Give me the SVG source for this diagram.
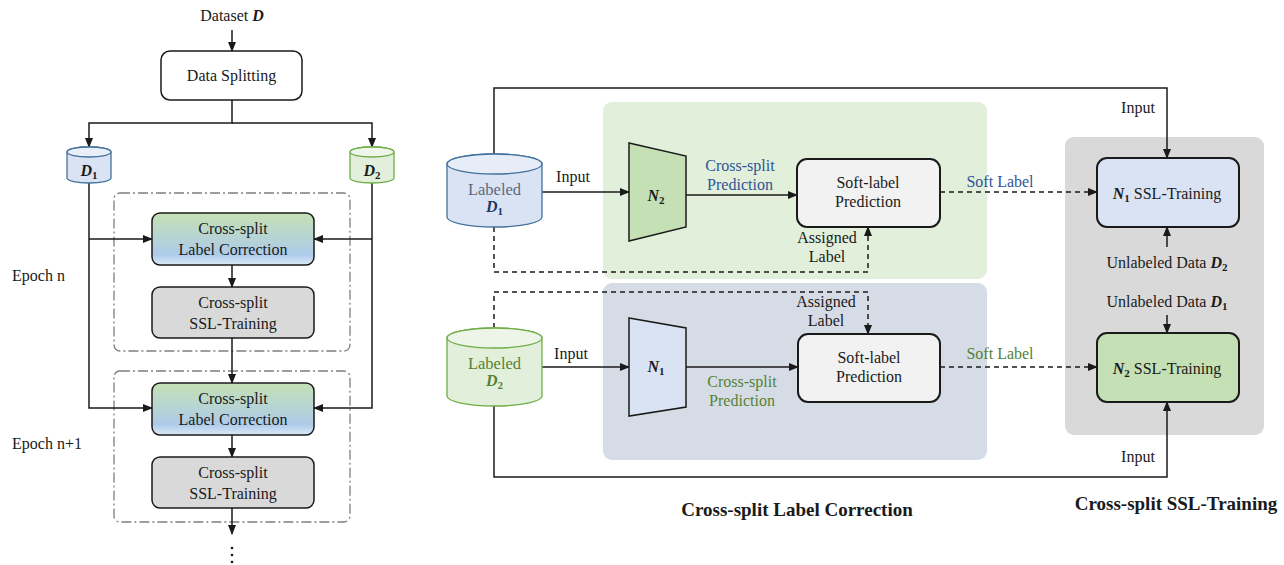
<svg xmlns="http://www.w3.org/2000/svg" width="1284" height="565" viewBox="0 0 1284 565">
<defs>
<style>
text{font-family:"Liberation Serif","Times New Roman",serif;font-size:16px;fill:#1a1a1a}
.c{text-anchor:middle}
.bi{font-weight:bold;font-style:italic}
.sub{font-size:11px;font-weight:bold;font-style:normal}
.box{stroke:#1a1a1a;stroke-width:2}
.ln{fill:none;stroke:#1a1a1a;stroke-width:1.5}
.ar{marker-end:url(#ah)}
.ds{stroke-dasharray:5 4}
.dd{fill:none;stroke:#7f7f7f;stroke-width:1.3;stroke-dasharray:10 3 2 3}
.title{font-size:19px;font-weight:bold}
</style>
<marker id="ah" markerWidth="10" markerHeight="8" refX="9" refY="4" orient="auto" markerUnits="userSpaceOnUse">
<path d="M0,0 L10,4 L0,8 Z" fill="#1a1a1a"/>
</marker>
<linearGradient id="lc" x1="0" y1="0" x2="0" y2="1">
<stop offset="0" stop-color="#c5e0b4"/>
<stop offset="0.8" stop-color="#adcbea"/>
<stop offset="1" stop-color="#dce9f7"/>
</linearGradient>
</defs>

<g id="backgrounds">
<rect x="603" y="102" width="384" height="177" rx="9" fill="#e2efda"/>
<rect x="603" y="283" width="384" height="177" rx="9" fill="#d6dce5"/>
<rect x="1065" y="137" width="199" height="298" rx="9" fill="#d9d9d9"/>
<rect x="114" y="193" width="236" height="158" rx="6" class="dd"/>
<rect x="114" y="371" width="236" height="151" rx="6" class="dd"/>
</g>

<g id="connectors">
<path class="ln ar" d="M232,30 V51"/>
<path class="ln ar" d="M232,100 V123 H89 V147"/>
<path class="ln ar" d="M232,123 H372 V147"/>
<path class="ln ar" d="M89,183 V408 H152"/>
<path class="ln ar" d="M89,239 H152"/>
<path class="ln ar" d="M372,183 V408 H314"/>
<path class="ln ar" d="M372,239 H314"/>
<path class="ln ar" d="M232,265 V287"/>
<path class="ln ar" d="M232,338 V383"/>
<path class="ln ar" d="M232,435 V457"/>
<path class="ln ar" d="M232,508 V534"/>
<path class="ln ar" d="M494,154 V88 H1167 V158"/>
<path class="ln ar" d="M542,192 H629"/>
<path class="ln ar" d="M686,195 H797"/>
<path class="ln ar ds" d="M940,192 H1097"/>
<path class="ln ar" d="M1167,247 V227"/>
<path class="ln ar" d="M1167,315 V333"/>
<path class="ln ar ds" d="M494,227 V272 H868 V227"/>
<path class="ln ar ds" d="M494,328 V292 H868 V334"/>
<path class="ln ar" d="M542,367 H629"/>
<path class="ln ar" d="M686,367 H798"/>
<path class="ln ar ds" d="M940,367 H1097"/>
<path class="ln ar" d="M494,406 V477 H1167 V402"/>
<circle cx="232" cy="548" r="1.3" fill="#1a1a1a"/>
<circle cx="232" cy="555" r="1.3" fill="#1a1a1a"/>
<circle cx="232" cy="562" r="1.3" fill="#1a1a1a"/>
</g>

<g id="dataset-label">
<text x="232" y="21" class="c">Dataset <tspan class="bi">D</tspan></text>
</g>

<g id="data-splitting">
<rect x="161" y="51" width="141" height="49" rx="9" fill="#ffffff" stroke="#1a1a1a" stroke-width="1.5"/>
<text x="231.5" y="81" class="c">Data Splitting</text>
</g>

<g id="d1-small">
<path d="M67,152 A22,5 0 0 1 111,152 V178 A22,5 0 0 1 67,178 Z" fill="#dae3f3" stroke="#41719c" stroke-width="1.3"/>
<ellipse cx="89" cy="152" rx="22" ry="5" fill="#e9eff8" stroke="#41719c" stroke-width="1.3"/>
<text x="89" y="176" class="c"><tspan class="bi">D</tspan><tspan class="sub" dy="3">1</tspan></text>
</g>

<g id="d2-small">
<path d="M350,152 A22,5 0 0 1 394,152 V178 A22,5 0 0 1 350,178 Z" fill="#e2efda" stroke="#70ad47" stroke-width="1.3"/>
<ellipse cx="372" cy="152" rx="22" ry="5" fill="#eef6ea" stroke="#70ad47" stroke-width="1.3"/>
<text x="372" y="176" class="c"><tspan class="bi">D</tspan><tspan class="sub" dy="3">2</tspan></text>
</g>

<g id="lc-1">
<rect x="152" y="213" width="162" height="52" rx="8" fill="url(#lc)" stroke="#1a1a1a" stroke-width="1.5"/>
<text x="233" y="234" class="c">Cross-split</text>
<text x="233" y="255" class="c">Label Correction</text>
</g>

<g id="ssl-1">
<rect x="152" y="287" width="162" height="51" rx="8" fill="#d9d9d9" stroke="#1a1a1a" stroke-width="1.5"/>
<text x="233" y="308" class="c">Cross-split</text>
<text x="233" y="329" class="c">SSL-Training</text>
</g>

<g id="lc-2">
<rect x="152" y="383" width="162" height="52" rx="8" fill="url(#lc)" stroke="#1a1a1a" stroke-width="1.5"/>
<text x="233" y="404" class="c">Cross-split</text>
<text x="233" y="425" class="c">Label Correction</text>
</g>

<g id="ssl-2">
<rect x="152" y="457" width="162" height="51" rx="8" fill="#d9d9d9" stroke="#1a1a1a" stroke-width="1.5"/>
<text x="233" y="478" class="c">Cross-split</text>
<text x="233" y="499" class="c">SSL-Training</text>
</g>

<g id="epoch-labels">
<text x="12" y="281">Epoch n</text>
<text x="12" y="449">Epoch n+1</text>
</g>

<g id="labeled-d1">
<path d="M447,164 A47.5,10 0 0 1 542,164 V217 A47.5,10 0 0 1 447,217 Z" fill="#dae3f3" stroke="#41719c" stroke-width="1.3"/>
<ellipse cx="494.5" cy="164" rx="47.5" ry="10" fill="#e6edf8" stroke="#41719c" stroke-width="1.3"/>
<text x="494.5" y="195" class="c" style="font-size:16.5px;fill:#5a6a80">Labeled</text>
<text x="494.5" y="212" class="c" style="fill:#203864"><tspan class="bi">D</tspan><tspan class="sub" dy="3" style="fill:#203864">1</tspan></text>
</g>

<g id="labeled-d2">
<path d="M447,338 A47.5,10 0 0 1 542,338 V396 A47.5,10 0 0 1 447,396 Z" fill="#e2efda" stroke="#70ad47" stroke-width="1.3"/>
<ellipse cx="494.5" cy="338" rx="47.5" ry="10" fill="#edf5e8" stroke="#70ad47" stroke-width="1.3"/>
<text x="494.5" y="369" class="c" style="font-size:16.5px;fill:#548235">Labeled</text>
<text x="494.5" y="386" class="c" style="fill:#548235"><tspan class="bi">D</tspan><tspan class="sub" dy="3" style="fill:#548235">2</tspan></text>
</g>

<g id="n2-net">
<polygon points="629,143 686,156 686,227 629,241" fill="#c5e0b4" stroke="#1a1a1a" stroke-width="1.5"/>
<text x="656" y="201" class="c"><tspan class="bi">N</tspan><tspan class="sub" dy="3">2</tspan></text>
</g>

<g id="n1-net">
<polygon points="629,318 686,328 686,407 629,416" fill="#dae3f3" stroke="#1a1a1a" stroke-width="1.5"/>
<text x="656" y="372" class="c"><tspan class="bi">N</tspan><tspan class="sub" dy="3">1</tspan></text>
</g>

<g id="soft-label-1">
<rect x="797" y="159" width="143" height="68" rx="10" fill="#f2f2f2" class="box"/>
<text x="868" y="188" class="c">Soft-label</text>
<text x="868" y="207" class="c">Prediction</text>
</g>

<g id="soft-label-2">
<rect x="798" y="334" width="142" height="68" rx="10" fill="#f2f2f2" class="box"/>
<text x="869" y="363" class="c">Soft-label</text>
<text x="869" y="382" class="c">Prediction</text>
</g>

<g id="n1-ssl">
<rect x="1097" y="158" width="142" height="69" rx="10" fill="#dae3f3" class="box"/>
<text x="1167" y="199" class="c"><tspan class="bi">N</tspan><tspan class="sub" dy="3">1</tspan><tspan dy="-3"> SSL-Training</tspan></text>
</g>

<g id="n2-ssl">
<rect x="1097" y="333" width="142" height="69" rx="10" fill="#c5e0b4" class="box"/>
<text x="1167" y="374" class="c"><tspan class="bi">N</tspan><tspan class="sub" dy="3">2</tspan><tspan dy="-3"> SSL-Training</tspan></text>
</g>

<g id="labels">
<text x="573" y="182" class="c">Input</text>
<text x="571" y="359" class="c">Input</text>
<text x="1138" y="113" class="c">Input</text>
<text x="1138" y="462" class="c">Input</text>
<text x="740" y="171" class="c" style="fill:#2f5597">Cross-split</text>
<text x="740" y="190" class="c" style="fill:#2f5597">Prediction</text>
<text x="742" y="387" class="c" style="fill:#548235">Cross-split</text>
<text x="742" y="406" class="c" style="fill:#548235">Prediction</text>
<text x="1000" y="187" class="c" style="fill:#2f5597">Soft Label</text>
<text x="1000" y="359" class="c" style="fill:#548235">Soft Label</text>
<text x="827" y="243" class="c">Assigned</text>
<text x="827" y="262" class="c">Label</text>
<text x="826" y="307" class="c">Assigned</text>
<text x="826" y="326" class="c">Label</text>
<text x="1167" y="268" class="c">Unlabeled Data <tspan class="bi">D</tspan><tspan class="sub" dy="3">2</tspan></text>
<text x="1167" y="307" class="c">Unlabeled Data <tspan class="bi">D</tspan><tspan class="sub" dy="3">1</tspan></text>
<text x="797" y="516" class="c title">Cross-split Label Correction</text>
<text x="1176" y="510" class="c title">Cross-split SSL-Training</text>
</g>
</svg>
